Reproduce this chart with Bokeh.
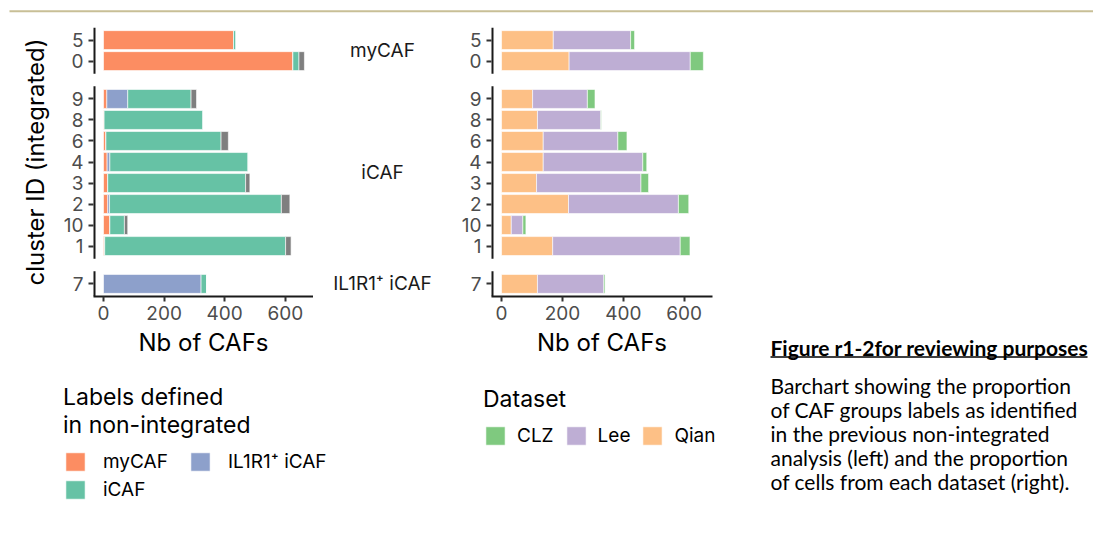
from bokeh.plotting import figure
from bokeh.models import ColumnDataSource, Range1d, FixedTicker, Legend, LegendItem
from bokeh.layouts import column, row
from bokeh.embed import file_html
from bokeh.resources import INLINE
from bokeh.core.properties import value

# ---------------- data ----------------
facet_names = ["myCAF", "iCAF", "IL1R1\u207a iCAF"]
facet_clusters = [["5", "0"], ["9", "8", "6", "4", "3", "2", "10", "1"], ["7"]]
clusters = ["5", "0", "9", "8", "6", "4", "3", "2", "10", "1", "7"]

# left panel: labels defined in non-integrated analysis (stack order left->right)
lab_myCAF = [429, 625, 11, 2, 8, 12, 14, 14, 21, 4, 0]
lab_IL1R1 = [0, 0, 69, 0, 0, 9, 0, 6, 0, 0, 322]
lab_iCAF = [8, 20, 209, 326, 380, 456, 455, 567, 48, 597, 18]
lab_NA = [0, 18, 18, 0, 24, 0, 14, 28, 11, 18, 0]

# right panel: dataset of origin (stack order left->right)
ds_Qian = [170, 222, 102, 118, 137, 137, 115, 220, 32, 168, 118]
ds_Lee = [254, 398, 180, 208, 245, 327, 343, 361, 38, 419, 218]
ds_CLZ = [13, 43, 25, 2, 30, 13, 25, 34, 10, 32, 4]

x_ticks = [0, 200, 400, 600]

# ---------------- styling ----------------
FONT = "Inter"
CAP_FONT = "Lato"
C_LAB = {"myCAF": "#FC8D62", "IL1R1": "#8DA0CB", "iCAF": "#66C2A5", "NA": "#7F7F7F"}
C_DS = {"Qian": "#FDC086", "Lee": "#BEAED4", "CLZ": "#7FC97F"}
AXC = "#1a1a1a"
TICKC = "#4D4D4D"
NAN = float("nan")

# facet layout in tenths of a category step
PAD, STEP, GAP = 6, 10, 6
ypos = {}
spans = []
cursor = 0
for cl in facet_clusters:
    top = cursor
    for i, c in enumerate(cl):
        ypos[c] = top + PAD + i * STEP
    bottom = top + 2 * PAD + (len(cl) - 1) * STEP
    spans.append((top, bottom))
    cursor = bottom + GAP
Y_TOTAL = cursor - GAP
ys = [ypos[c] for c in clusters]

XMIN, XMAX = -33, 693
CH_H, B_TOP, B_BOT = 359, 11, 79


def base_chart(width, b_left, b_right, ylabel):
    p = figure(width=width, height=CH_H, x_range=Range1d(XMIN, XMAX),
               y_range=Range1d(Y_TOTAL, 0), output_backend="svg",
               toolbar_location=None, min_border_left=b_left,
               min_border_right=b_right, min_border_top=B_TOP,
               min_border_bottom=B_BOT)
    p.frame_align = False
    p.outline_line_color = None
    p.xgrid.visible = False
    p.ygrid.visible = False
    # x axis
    xa = p.xaxis[0]
    xa.ticker = FixedTicker(ticks=x_ticks)
    xa.axis_line_color = AXC
    xa.axis_line_width = 2
    xa.major_tick_line_color = "#333333"
    xa.major_tick_line_width = 2
    xa.major_tick_out = 5
    xa.major_tick_in = 0
    xa.minor_tick_line_color = None
    xa.major_label_text_font = FONT
    xa.major_label_text_font_size = "19px"
    xa.major_label_text_color = TICKC
    xa.major_label_standoff = 4
    xa.axis_label = "Nb of CAFs"
    xa.axis_label_text_font = FONT
    xa.axis_label_text_font_size = "24px"
    xa.axis_label_text_font_style = "normal"
    xa.axis_label_text_color = "black"
    xa.axis_label_standoff = 5
    # y axis (line drawn per facet below)
    ya = p.yaxis[0]
    ya.ticker = FixedTicker(ticks=ys)
    ya.major_label_overrides = {ypos[c]: c for c in clusters}
    ya.axis_line_color = None
    ya.major_tick_line_color = "#333333"
    ya.major_tick_line_width = 2
    ya.major_tick_out = 5
    ya.major_tick_in = 0
    ya.minor_tick_line_color = None
    ya.major_label_text_font = FONT
    ya.major_label_text_font_size = "19px"
    ya.major_label_text_color = TICKC
    ya.major_label_standoff = 5
    ya.axis_label = ylabel
    ya.axis_label_text_font = FONT
    ya.axis_label_text_font_size = "24px"
    ya.axis_label_text_font_style = "normal"
    ya.axis_label_text_color = "black"
    ya.axis_label_standoff = 11
    # broken y-axis line, one segment per facet
    p.segment(x0=[XMIN] * len(spans), x1=[XMIN] * len(spans),
              y0=[s[0] for s in spans], y1=[s[1] for s in spans],
              line_color=AXC, line_width=4)
    return p


def blank(width, height, xr, yr, **kw):
    f = figure(width=width, height=height, x_range=Range1d(*xr),
               y_range=Range1d(*yr), x_axis_location=None,
               y_axis_location=None, toolbar_location=None,
               output_backend="svg", **kw)
    f.frame_align = False
    f.outline_line_color = None
    f.grid.visible = False
    return f


def style_legend(lg):
    lg.glyph_width = 24
    lg.glyph_height = 23
    lg.spacing = 5
    lg.padding = 0
    lg.margin = 0
    lg.border_line_color = None
    lg.background_fill_alpha = 0
    lg.title_text_font = FONT
    lg.title_text_font_size = "23px"
    lg.title_text_font_style = "normal"
    lg.title_text_color = "black"
    lg.label_text_font = FONT
    lg.label_text_font_size = "19px"
    lg.label_text_color = "black"
    lg.title_standoff = 11


# ---------------- left chart ----------------
src_l = ColumnDataSource(dict(y=ys, myCAF=lab_myCAF, IL1R1=lab_IL1R1,
                              iCAF=lab_iCAF, NA=lab_NA))
pl = base_chart(313, 93, 0, "cluster ID (integrated)")
keys_l = ["myCAF", "IL1R1", "iCAF", "NA"]
pl.hbar_stack(keys_l, y="y", height=9, source=src_l,
              color=[C_LAB[k] for k in keys_l], line_color="white",
              line_width=0.6)

# ---------------- facet strip labels ----------------
ps = blank(142, CH_H, (313, 455), (Y_TOTAL, 0), min_border_left=0,
           min_border_right=0, min_border_top=B_TOP, min_border_bottom=B_BOT)
ps.text(x=[382] * len(spans), y=[(t + b) / 2 for t, b in spans], text=facet_names,
        text_align="center", text_baseline="middle", text_font=value(FONT),
        text_font_size="19px", text_color="#1a1a1a")

# ---------------- right chart ----------------
src_r = ColumnDataSource(dict(y=ys, Qian=ds_Qian, Lee=ds_Lee, CLZ=ds_CLZ))
pr = base_chart(280, 36, 23, "")
keys_r = ["Qian", "Lee", "CLZ"]
pr.hbar_stack(keys_r, y="y", height=9, source=src_r,
              color=[C_DS[k] for k in keys_r], line_color="white",
              line_width=0.6)

# ---------------- legends (key swatches only, no data) ----------------
plg = blank(735, 152, (0, 735), (527, 375), min_border=0)
lk = {}
for k in ["myCAF", "iCAF", "IL1R1"]:
    lk[k] = plg.hbar(y=[NAN], right=[NAN], height=1, fill_color=C_LAB[k],
                     line_color="white", line_width=0.6)
dk = {}
for k in ["CLZ", "Lee", "Qian"]:
    dk[k] = plg.hbar(y=[NAN], right=[NAN], height=1, fill_color=C_DS[k],
                     line_color="white", line_width=0.6)
leg_l = Legend(items=[LegendItem(label="myCAF", renderers=[lk["myCAF"]]),
                      LegendItem(label="iCAF", renderers=[lk["iCAF"]]),
                      LegendItem(label="IL1R1\u207a iCAF", renderers=[lk["IL1R1"]])],
               title="Labels defined\nin non-integrated",
               orientation="vertical", nrows=2, location=(63, 26))
style_legend(leg_l)
leg_l.title_text_line_height = 1.05
leg_l.label_standoff = 16
leg_l.label_width = 80
plg.add_layout(leg_l, "center")
leg_r = Legend(items=[LegendItem(label="CLZ", renderers=[dk["CLZ"]]),
                      LegendItem(label="Lee", renderers=[dk["Lee"]]),
                      LegendItem(label="Qian", renderers=[dk["Qian"]])],
               title="Dataset", orientation="horizontal", location=(483, 80))
style_legend(leg_r)
leg_r.label_standoff = 10
leg_r.spacing = 10
plg.add_layout(leg_r, "center")

# ---------------- caption ----------------
BASE_SHIFT = 6.5  # alphabetic text renders slightly below its anchor
pc = blank(358, 511, (735, 1093), (527, 16), min_border=0)
cap_title = "Figure r1-2for reviewing purposes"
cap_lines = ["Barchart showing the proportion",
             "of CAF groups labels as identified",
             "in the previous non-integrated",
             "analysis (left) and the proportion",
             "of cells from each dataset (right)."]
pc.text(x=[770], y=[353 - BASE_SHIFT], text=[cap_title], text_font=value(CAP_FONT),
        text_font_style="bold", text_font_size="21px",
        text_baseline="alphabetic", text_color="black")
pc.segment(x0=[770], x1=[1087], y0=[356.5], y1=[356.5], line_color="black",
           line_width=1.5)
pc.text(x=[770] * len(cap_lines),
        y=[391 - BASE_SHIFT + 24 * i for i in range(len(cap_lines))],
        text=cap_lines, text_font=value(CAP_FONT), text_font_size="21px",
        text_baseline="alphabetic", text_color="black")

# ---------------- top rule ----------------
pt = blank(1093, 16, (0, 1093), (16, 0), min_border=0)
pt.segment(x0=[9], x1=[1093], y0=[10.7], y1=[10.7], line_color="#C8BF96",
           line_width=2)

layout = column(pt, row(column(row(pl, ps, pr), plg), pc))
open("out.html", "w").write(file_html(layout, INLINE))
